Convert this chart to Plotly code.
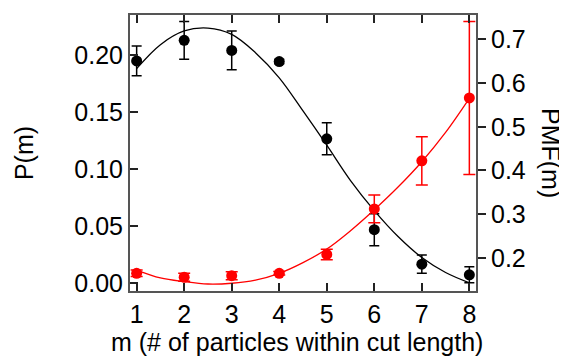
import plotly.graph_objects as go

# data
m = [1, 2, 3, 4, 5, 6, 7, 8]
P_vals = [0.1948, 0.2128, 0.2040, 0.1942, 0.1266, 0.0470, 0.0168, 0.0075]
P_err = [0.013, 0.0165, 0.017, 0.002, 0.014, 0.014, 0.008, 0.007]
PMF_vals = [0.1645, 0.1555, 0.1590, 0.1645, 0.2077, 0.3120, 0.4220, 0.5660]
PMF_err = [0.0075, 0.009, 0.009, 0.004, 0.012, 0.032, 0.055, 0.175]

# fitted curves
fit_x = [1, 1.5, 2, 2.5, 3, 3.5, 4, 4.5, 5, 5.5, 6, 6.5, 7, 7.5, 8]
P_fit = [0.188, 0.209, 0.221, 0.2235, 0.218, 0.202, 0.180, 0.151, 0.121,
         0.090, 0.0637, 0.041, 0.0226, 0.0095, 0.0005]
PMF_fit = [0.172, 0.154, 0.1455, 0.140, 0.1418, 0.149, 0.1645, 0.189, 0.220,
           0.262, 0.310, 0.362, 0.420, 0.487, 0.565]

x_ticks = [1, 2, 3, 4, 5, 6, 7, 8]
y_ticks = [0.0, 0.05, 0.10, 0.15, 0.20]
y2_ticks = [0.2, 0.3, 0.4, 0.5, 0.6, 0.7]

FONT = "Liberation Sans, Arial, sans-serif"
FS = 25

fig = go.Figure()
fig.add_trace(go.Scatter(x=fit_x, y=P_fit, mode="lines", line=dict(color="black", width=1.3, shape="spline"),
                         yaxis="y", showlegend=False))
fig.add_trace(go.Scatter(x=fit_x, y=PMF_fit, mode="lines", line=dict(color="red", width=1.3, shape="spline"),
                         yaxis="y2", showlegend=False))
fig.add_trace(go.Scatter(x=m, y=P_vals, mode="markers", marker=dict(color="black", size=11),
                         error_y=dict(type="data", array=P_err, color="black", thickness=1.5, width=5),
                         yaxis="y", showlegend=False))
fig.add_trace(go.Scatter(x=m, y=PMF_vals, mode="markers", marker=dict(color="red", size=11),
                         error_y=dict(type="data", array=PMF_err, color="red", thickness=1.5, width=6),
                         yaxis="y2", showlegend=False))

# page body has an 8px margin, so the figure is drawn 8px smaller
fig.update_layout(
    width=559, height=350,
    margin=dict(l=122, r=91, t=5, b=67),
    paper_bgcolor="white", plot_bgcolor="white",
    font=dict(family=FONT, size=FS, color="black"),
    xaxis=dict(range=[0.86, 8.14], tickvals=x_ticks, ticks="inside", ticklen=8, tickwidth=1.5,
               tickcolor="#222", showline=True, linecolor="#555", linewidth=2, mirror="ticks",
               showgrid=False, zeroline=False, tickfont=dict(size=FS)),
    yaxis=dict(range=[-0.0067, 0.235], tickvals=y_ticks, tickformat=".2f", ticks="inside", ticklen=8,
               tickwidth=1.5, tickcolor="#222", showline=True, linecolor="#555", linewidth=2,
               showgrid=False, zeroline=False, tickfont=dict(size=FS)),
    yaxis2=dict(range=[0.124, 0.756], tickvals=y2_ticks, tickformat=".1f", overlaying="y", side="right",
                ticks="outside", ticklen=8, tickwidth=1.5, tickcolor="#222", showline=True,
                linecolor="#555", linewidth=2, showgrid=False, zeroline=False, tickfont=dict(size=FS)),
    annotations=[
        dict(text="m (# of particles within cut length)", xref="paper", yref="paper", x=0.483, y=-0.1835,
             xanchor="center", yanchor="middle", showarrow=False, font=dict(size=FS)),
        dict(text="P(m)", xref="paper", yref="paper", x=-0.306, y=0.5, textangle=-90,
             xanchor="center", yanchor="middle", showarrow=False, font=dict(size=FS)),
        dict(text="PMF(m)", xref="paper", yref="paper", x=1.2168, y=0.5, textangle=90,
             xanchor="center", yanchor="middle", showarrow=False, font=dict(size=FS)),
    ],
)

fig.write_html("out.html")
